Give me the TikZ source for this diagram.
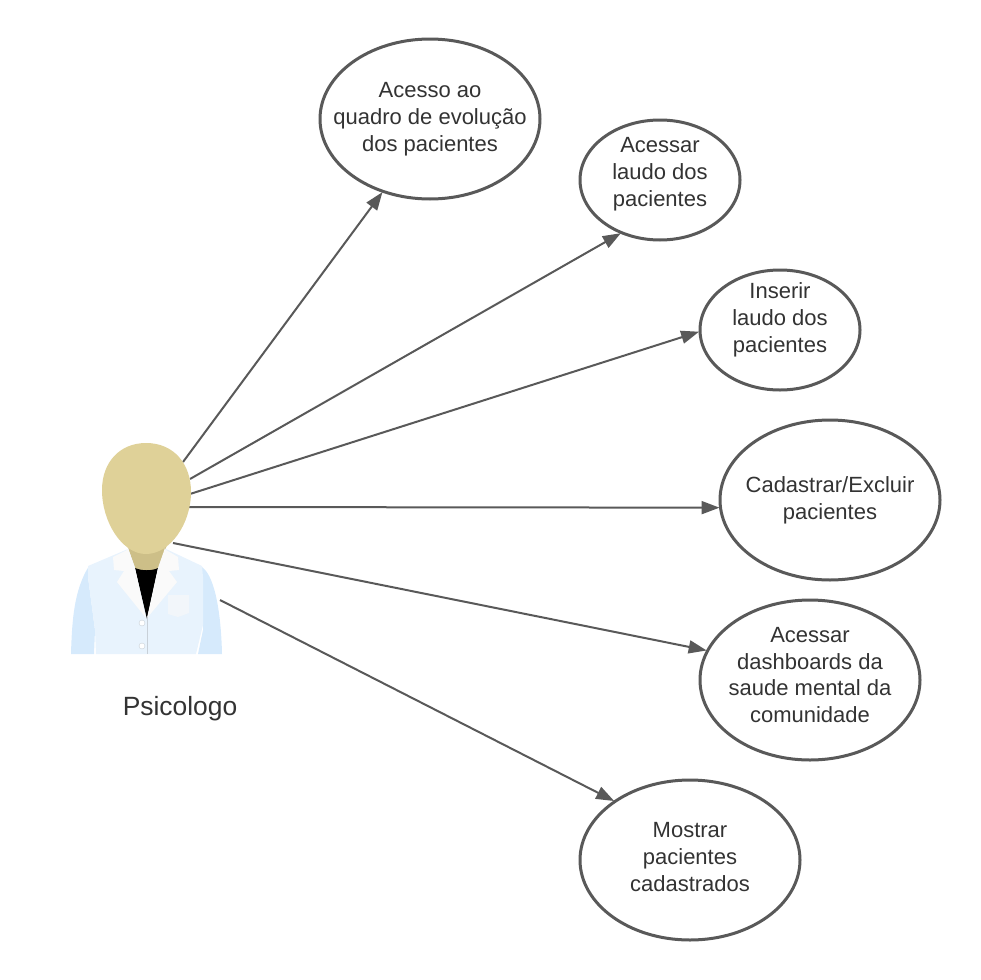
\documentclass[tikz,border=0pt]{standalone}
\usepackage{fontspec}
\setmainfont{Liberation Sans}
\usetikzlibrary{shapes.geometric,arrows.meta}
\definecolor{traco}{HTML}{595959}
\definecolor{texto}{HTML}{333333}
\definecolor{pele}{HTML}{DFD198}
\definecolor{pescoco}{HTML}{CDBF88}
\definecolor{jaleco}{HTML}{E8F3FD}
\definecolor{manga}{HTML}{D6EAFC}
\definecolor{gola}{HTML}{FAFAFA}
\definecolor{bolso}{HTML}{F2F6FA}
\definecolor{costura}{HTML}{C8D0D8}
\tikzset{
  caso/.style={ellipse,draw=traco,line width=3pt,inner sep=0pt,outer sep=0pt,fill=white},
  casog/.style={caso,minimum width=220pt,minimum height=160pt},
  casop/.style={caso,minimum width=160pt,minimum height=120pt},
  rotulo/.style={align=center,text=texto,font=\fontsize{22}{26.9}\selectfont,inner sep=0pt},
  seta/.style={draw=traco,line width=2pt,shorten >=1pt,-{Stealth[length=18pt,width=13pt,inset=0pt]}}
}
\begin{document}
\begin{tikzpicture}[x=1pt,y=-1pt]
\useasboundingbox (0,0) rectangle (980,980);

\node[casog] (quadro) at (430,119) {};
\node[casop] (acessar) at (660,180) {};
\node[casop] (inserir) at (780,330) {};
\node[casog] (cadastrar) at (830,500) {};
\node[casog] (dashboards) at (810,680) {};
\node[casog] (mostrar) at (690,860) {};

\node[rotulo] (quadrotxt) at (430,119.5) {Acesso ao\\quadro de evolução\\dos pacientes};
\node[rotulo] (acessartxt) at (660,174) {Acessar\\laudo dos\\pacientes};
\node[rotulo] (inserirtxt) at (780,320) {Inserir\\laudo dos\\pacientes};
\node[rotulo] (cadastrartxt) at (830,500.5) {Cadastrar/Excluir\\pacientes};
\node[rotulo] (dashboardstxt) at (810,675) {Acessar\\dashboards da\\saude mental da\\comunidade};
\node[rotulo] (mostrartxt) at (690,857) {Mostrar\\pacientes\\cadastrados};

\coordinate (p1) at (183,462);
\coordinate (p2) at (190,479);
\coordinate (p3) at (190,494);
\coordinate (p4) at (189,507);
\coordinate (p5) at (173,543);
\coordinate (p6) at (220,600);

\draw[seta] (p1) -- (quadro.237.7);
\draw[seta] (p2) -- (acessar.234.2);
\draw[seta] (p3) -- (inserir.181);
\draw[seta] (p4) -- (cadastrar.184.1);
\draw[seta] (p5) -- (dashboards.164.4);
\draw[seta] (p6) -- (mostrar.142.8);

% jaleco
\fill[manga] (71,654) .. controls (72,620) and (74,590) .. (89,566) -- (200,566)
  .. controls (214,572) and (221,610) .. (222,654) -- (198,654) -- (203,630) -- (203,577)
  -- (88,577) -- (95,630) -- (94,654) -- cycle;
\fill[jaleco] (88,566) -- (128,549) -- (166,549) -- (202,566) -- (203,577) -- (203,625)
  -- (196,654) -- (96,654) -- (95,630) -- (88,577) -- cycle;
\fill[pescoco] (127,545) -- (136,570) .. controls (142,572) and (152,572) .. (158,569) -- (167,545) -- cycle;
\fill[black] (135,568) .. controls (142,571) and (152,571) .. (158,568) -- (147,619) -- cycle;
\fill[gola] (127,550) -- (113,557) -- (114,570) -- (124,571) -- (117,582) -- (146,618) -- (135,568) -- (128,548) -- cycle;
\fill[gola] (166,550) -- (178,557) -- (179,570) -- (169,571) -- (177,582) -- (147,618) -- (158,568) -- (165,548) -- cycle;
\fill[bolso] (168,595) -- (189,595) -- (189,613) -- (178,617) -- (168,614) -- cycle;
\draw[costura,line width=0.7pt] (147,618) -- (147,654);
\filldraw[fill=white,draw=costura,line width=0.4pt] (142,623) circle (3pt);
\filldraw[fill=white,draw=costura,line width=0.4pt] (142,646) circle (3pt);

% cabeca
\fill[pele] (146,443) .. controls (174,443) and (191,464) .. (191,492)
  .. controls (191,524) and (170,554) .. (146,554)
  .. controls (122,554) and (102,522) .. (102,490)
  .. controls (102,462) and (120,443) .. (146,443) -- cycle;

\node[rotulo,font=\fontsize{26.4}{30}\selectfont] (psicologo) at (180,709) {Psicologo};
\end{tikzpicture}
\end{document}
